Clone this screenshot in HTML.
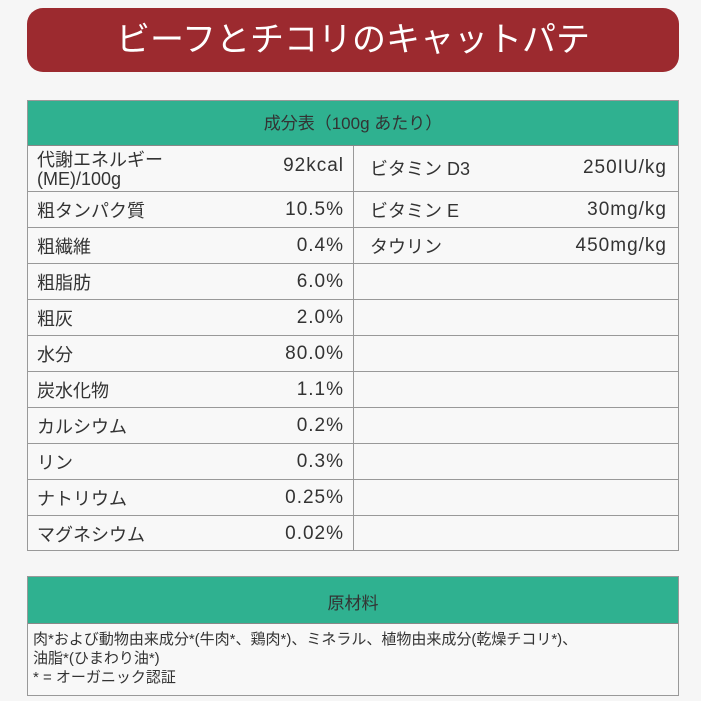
<!DOCTYPE html>
<html><head><meta charset="utf-8"><style>
*{margin:0;padding:0;box-sizing:border-box}
body{width:701px;height:701px;background:#f6f6f6;font-family:"Liberation Sans","Noto Sans CJK JP",sans-serif;color:#333;position:relative;overflow:hidden}
.banner{position:absolute;left:27px;top:8px;width:652px;height:64px;background:#9c2a2f;border-radius:16px;color:#fff;font-size:34px;text-align:center;line-height:64px;letter-spacing:0px}
.t{position:absolute;left:27px;width:652px;border:1px solid #999;background:#f8f8f8}
.hd{background:#2fb190;color:#333;text-align:center;font-size:17px;border-bottom:1px solid #888}
.row{position:absolute;left:0;width:650px;border-top:1px solid #999;height:36px}
.c{position:absolute;top:0;height:100%;display:flex;align-items:center;font-size:18px}
.v1,.v2{letter-spacing:1px;font-size:19px}
.l1{left:9px}.v1{right:334px}.l2{left:342px}.v2{right:11px}
.div{position:absolute;left:325px;top:45px;bottom:0;width:1px;background:#999}
</style></head><body>
<div class="banner">ビーフとチコリのキャットパテ</div>
<div class="t" style="top:100px;height:451px">
<div class="hd" style="height:45px;line-height:45px">成分表（100g あたり）</div>
<div class="div"></div>
<div class="row" style="top:44px;height:46px;border-top:none">
<div class="c l1" style="line-height:19px;top:2px">代謝エネルギー<br>(ME)/100g</div><div class="c v1" style="top:-2px">92kcal</div>
<div class="c l2">ビタミン D3</div><div class="c v2">250IU/kg</div></div>
<div class="row" style="top:90px"><div class="c l1">粗タンパク質</div><div class="c v1">10.5%</div><div class="c l2">ビタミン E</div><div class="c v2">30mg/kg</div></div>
<div class="row" style="top:126px"><div class="c l1">粗繊維</div><div class="c v1">0.4%</div><div class="c l2">タウリン</div><div class="c v2">450mg/kg</div></div>
<div class="row" style="top:162px"><div class="c l1">粗脂肪</div><div class="c v1">6.0%</div></div>
<div class="row" style="top:198px"><div class="c l1">粗灰</div><div class="c v1">2.0%</div></div>
<div class="row" style="top:234px"><div class="c l1">水分</div><div class="c v1">80.0%</div></div>
<div class="row" style="top:270px"><div class="c l1">炭水化物</div><div class="c v1">1.1%</div></div>
<div class="row" style="top:306px"><div class="c l1">カルシウム</div><div class="c v1">0.2%</div></div>
<div class="row" style="top:342px"><div class="c l1">リン</div><div class="c v1">0.3%</div></div>
<div class="row" style="top:378px"><div class="c l1">ナトリウム</div><div class="c v1">0.25%</div></div>
<div class="row" style="top:414px"><div class="c l1">マグネシウム</div><div class="c v1">0.02%</div></div>
</div>
<div class="t" style="top:576px;height:120px">
<div class="hd" style="height:47px;line-height:54px">原材料</div>
<div style="font-size:15px;line-height:19px;padding:6px 0 0 5px">肉*および動物由来成分*(牛肉*、鶏肉*)、ミネラル、植物由来成分(乾燥チコリ*)、<br>油脂*(ひまわり油*)<br>* = オーガニック認証</div>
</div>
</body></html>
